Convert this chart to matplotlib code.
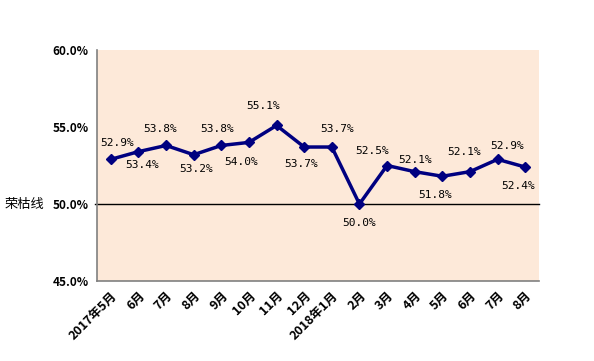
import matplotlib
matplotlib.use("Agg")
import matplotlib.pyplot as plt

plt.rcParams['font.family'] = ['Noto Sans CJK SC', 'DejaVu Sans']

categories = ["2017年5月", "6月", "7月", "8月", "9月", "10月", "11月", "12月",
              "2018年1月", "2月", "3月", "4月", "5月", "6月", "7月", "8月"]
values = [52.9, 53.4, 53.8, 53.2, 53.8, 54.0, 55.1, 53.7,
          53.7, 50.0, 52.5, 52.1, 51.8, 52.1, 52.9, 52.4]
yticks = [45.0, 50.0, 55.0, 60.0]

# label offsets in pixels (layout only)
label_dx = [6, 4, -6, 2, -4, -8, -13, -3, 5, 0, -15, 0, -7, -6, 10, -7]
label_dy = [16, -13, 16, -14, 16, -20, 19, -17, 18, -19, 15, 12, -19, 20, 13, -19]

fig = plt.figure(figsize=(5.94, 3.61), dpi=100)
ax = fig.add_axes([0.1633, 0.2216, 0.7441, 0.6399])
ax.set_facecolor('#FDE9D9')

x = list(range(len(categories)))
ax.plot(x, values, color='#000080', lw=2.5, marker='D', ms=5, zorder=3)
ax.axhline(50.0, color='black', lw=1, zorder=2, xmin=-0.005, clip_on=False)

for xi, v, dx, dy in zip(x, values, label_dx, label_dy):
    ax.annotate(f"{v:.1f}%", (xi, v), xytext=(dx * 0.72, dy * 0.72),
                textcoords='offset points', ha='center', va='center',
                fontsize=8, family=['DejaVu Sans Mono'])

ax.set_xlim(-0.5, len(categories) - 0.5)
ax.set_ylim(45, 60)
ax.set_yticks(yticks)
ax.set_yticklabels([f"{t:.1f}%" for t in yticks], fontweight='bold', fontsize=8.5)
ax.set_xticks(x)
ax.set_xticklabels(categories, rotation=45, ha='right', rotation_mode='anchor',
                   fontweight='bold', fontsize=9)
ax.tick_params(axis='both', length=0, pad=6)

for s in ['top', 'right']:
    ax.spines[s].set_visible(False)
for s in ['left', 'bottom']:
    ax.spines[s].set_color('#808080')
    ax.spines[s].set_linewidth(1.2)

fig.text(5 / 594, 1 - 204 / 361, "荣枯线", fontsize=9.5, va='center', ha='left')

fig.savefig("out.png", dpi=100)
